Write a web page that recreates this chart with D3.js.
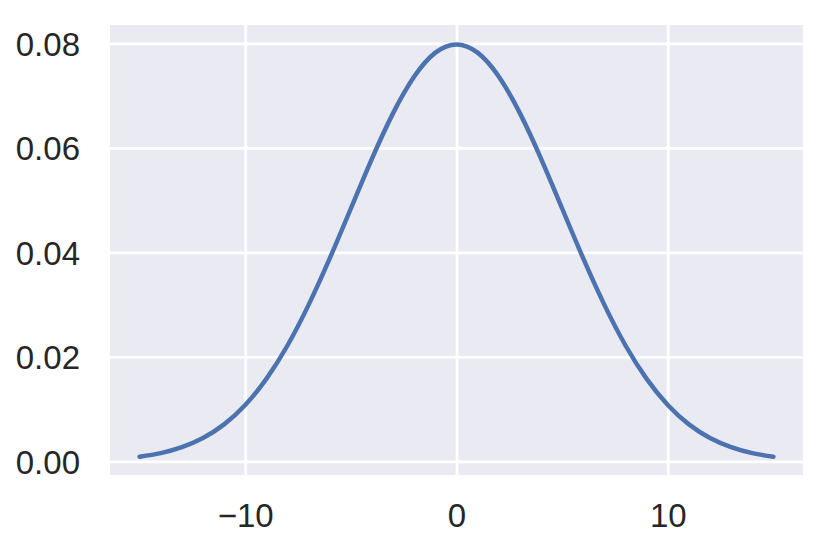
<!DOCTYPE html>
<html><head><meta charset="utf-8">
<script src="https://cdn.jsdelivr.net/npm/d3@7"></script>
<style>body{margin:0;background:#fff}svg{display:block}</style>
</head><body>
<svg id="c" width="829" height="549"></svg>
<script>
const xValues = [-15,-14,-13,-12,-11,-10,-9,-8,-7,-6,-5,-4,-3,-2,-1,0,1,2,3,4,5,6,7,8,9,10,11,12,13,14,15];
const yValues = [0.00089,0.00158,0.00272,0.00448,0.00709,0.01080,0.01579,0.02218,0.02995,0.03884,0.04839,0.05794,0.06664,0.07365,0.07821,0.07979,0.07821,0.07365,0.06664,0.05794,0.04839,0.03884,0.02995,0.02218,0.01579,0.01080,0.00709,0.00448,0.00272,0.00158,0.00089];
const xTicks = [-10, 0, 10];
const yTicks = [0.00, 0.02, 0.04, 0.06, 0.08];

const L = 110, R = 803, T = 25, B = 475;
const svg = d3.select("#c");
const x = d3.scaleLinear().domain([-16.4, 16.4]).range([L, R]);
const y = d3.scaleLinear().domain([-0.0026, 0.0835]).range([B, T]);

svg.append("rect").attr("x", L).attr("y", T).attr("width", R - L).attr("height", B - T).attr("fill", "#eaeaf2");

const font = "'Liberation Sans', Arial, sans-serif";
const gx = svg.append("g").attr("transform", `translate(0,${B})`)
  .call(d3.axisBottom(x).tickValues(xTicks).tickSize(0).tickPadding(0)
    .tickFormat(d => d3.format("d")(d).replace("-", "\u2212")));
gx.select(".domain").remove();
gx.selectAll("text").attr("y", 51.7).attr("dy", null).attr("fill", "#262626")
  .style("font-family", font).style("font-size", "33px");
gx.selectAll(".tick line").attr("y1", 0).attr("y2", -(B - T)).attr("stroke", "#fff").attr("stroke-width", 2.8);

const gy = svg.append("g").attr("transform", `translate(${L},0)`)
  .call(d3.axisLeft(y).tickValues(yTicks).tickSize(0).tickPadding(30).tickFormat(d3.format(".2f")));
gy.select(".domain").remove();
gy.selectAll("text").attr("dy", "0.36em").attr("fill", "#262626")
  .style("font-family", font).style("font-size", "33px");
gy.selectAll(".tick line").attr("x1", 0).attr("x2", R - L).attr("stroke", "#fff").attr("stroke-width", 2.8);

const data = xValues.map((v, i) => [v, yValues[i]]);
svg.append("path").datum(data)
  .attr("d", d3.line().x(d => x(d[0])).y(d => y(d[1])).curve(d3.curveNatural))
  .attr("fill", "none").attr("stroke", "#4c72b0").attr("stroke-width", 4.5).attr("stroke-linecap", "round");
</script>
</body></html>
